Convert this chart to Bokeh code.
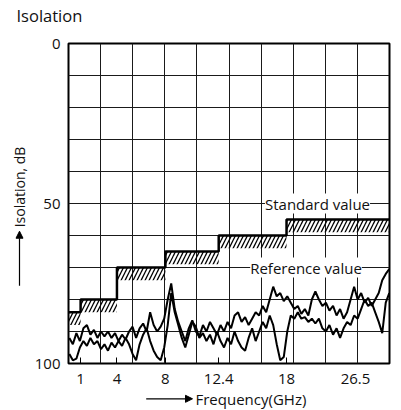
import numpy as np
from bokeh.plotting import figure
from bokeh.models import Range1d, FixedTicker, Label, Arrow, NormalHead
from bokeh.layouts import column, row
from bokeh.embed import file_html
from bokeh.resources import INLINE

# ---------------- data ----------------
title_text = "Isolation"
y_label = "Isolation, dB"
x_label = "Frequency(GHz)"

tick_freqs = [1, 4, 8, 12.4, 18, 26.5]
tick_labels = ["1", "4", "8", "12.4", "18", "26.5"]
y_ticks = [0, 50, 100]

# standard-value steps: band start, band end, isolation level (dB)
band_start = [0, 1, 4, 8, 12.4, 18]
band_end = [1, 4, 8, 12.4, 18, 26.5]
standard_level = [84, 80, 70, 65, 60, 55]
hatch_depth = [4, 4, 4, 4, 4, 4]

freq = [0.07, 0.36, 0.65, 0.94, 1.23, 1.52, 1.81, 2.10, 2.39, 2.68, 2.97, 3.26,
        3.55, 3.84, 4.13, 4.42, 4.71, 5.00, 5.29, 5.58, 5.87, 6.16, 6.45, 6.74,
        7.03, 7.32, 7.61, 7.90, 8.19, 8.48, 8.77, 9.06, 9.35, 9.64, 9.93, 10.22,
        10.51, 10.80, 11.10, 11.39, 11.68, 11.97, 12.26, 12.55, 12.84, 13.13,
        13.42, 13.71, 14.00, 14.29, 14.58, 14.87, 15.16, 15.45, 15.74, 16.03,
        16.32, 16.61, 16.90, 17.19, 17.48, 17.77, 18.06, 18.35, 18.64, 18.93,
        19.22, 19.51, 19.80, 20.09, 20.38, 20.67, 20.96, 21.25, 21.54, 21.84,
        22.13, 22.42, 22.71, 23.00, 23.29, 23.58, 23.87, 24.16, 24.45, 24.74,
        25.03, 25.32, 25.61, 25.90, 26.19, 26.48]

ref_a = [92, 94, 90.5, 93, 89, 88, 91, 89.5, 92, 90, 91.5, 90, 92, 90.5, 93,
         91, 92.5, 90, 88.5, 92, 89, 87.5, 90, 84, 88, 90, 88.5, 86, 80, 75,
         83, 87, 90, 93, 89, 86.5, 90, 91.5, 88, 90, 87, 89, 91, 88,
         90, 87, 89, 85, 84, 87, 85.5, 88, 86, 84, 85, 82, 84,
         80, 76, 79, 78, 80.5, 79, 81, 83, 82, 84.5, 83, 85, 80,
         77.5, 80, 82, 81, 83.5, 82, 85, 83, 86, 84, 80, 76, 80,
         78, 81, 79.5, 82, 80, 78, 74, 72, 70.5]

ref_b = [97, 99, 98.5, 95, 93, 94.5, 92, 94, 93, 95.5, 94, 96, 93.5, 95, 93,
         94.5, 92, 94, 97, 99, 94, 91, 89, 93, 96, 98, 99, 95, 88, 78,
         84, 88, 92, 95, 91, 87, 88.5, 92, 90.5, 93, 91, 94, 90, 93,
         95, 92, 94, 90, 93, 95, 96, 92, 89, 93, 90, 87, 89,
         85, 88, 94, 99, 98, 90, 85, 86, 84, 86, 85.5, 87, 86,
         87.5, 86, 89, 90, 88, 91, 89, 92, 89, 87, 88, 85, 86,
         83, 80, 82, 81, 84, 87, 90.5, 81, 78]

std_label = "Standard value"
ref_label = "Reference value"

# ---------------- page layout (pixels) ----------------
FONT = "Open Sans"
INK = "#111111"
W, H = 401, 410
TOP_H, BOT_H, LEFT_W = 32, 20, 30          # strips around the main chart
FL, FR, FT, FB = 68, 389, 43, 365          # plot frame edges on the page
MAIN_W, MAIN_H = W - LEFT_W, H - TOP_H - BOT_H
x0, x1 = 0, 26.5
y0, y1 = 0, 100
NBSP = "\u00a0"


def px_x(px):
    return x0 + (px - FL) / (FR - FL) * (x1 - x0)


def strip(width, height):
    """A blank figure whose frame fills it, with pixel coordinates (y down)."""
    f = figure(width=width, height=height, output_backend="svg",
               toolbar_location=None, x_range=Range1d(0, width),
               y_range=Range1d(height, 0), x_axis_location=None,
               y_axis_location=None, min_border=0)
    f.outline_line_color = None
    f.background_fill_color = "white"
    f.border_fill_color = "white"
    f.grid.visible = False
    return f


# ---- title strip ----
top = strip(W, TOP_H)
top.add_layout(Label(x=16, y=15, text=title_text, text_font=FONT,
                     text_font_size="16.5px", text_color=INK,
                     text_baseline="middle"))

# ---- y-label strip with upward arrow ----
left = strip(LEFT_W, MAIN_H)
left.add_layout(Label(x=19, y=192.5 - TOP_H, text=y_label, angle=np.pi / 2,
                      text_align="center", text_baseline="middle",
                      text_font=FONT, text_font_size="14px", text_color=INK))
left.add_layout(Arrow(x_start=19, y_start=303 - TOP_H, x_end=19, y_end=242 - TOP_H,
                      line_color="black", line_width=1.2,
                      end=NormalHead(size=7, fill_color="black",
                                     line_color="black", line_width=1)))

# ---- x-label strip with rightward arrow ----
bottom = strip(W, BOT_H)
bottom.add_layout(Label(x=195, y=398 - (H - BOT_H), text=x_label,
                        text_align="left", text_baseline="middle",
                        text_font=FONT, text_font_size="15px", text_color=INK))
bottom.add_layout(Arrow(x_start=145.7, y_start=398.3 - (H - BOT_H), x_end=192,
                        y_end=398.3 - (H - BOT_H), line_color="black",
                        line_width=1.2,
                        end=NormalHead(size=7, fill_color="black",
                                       line_color="black", line_width=1)))

# ---- main chart ----
p = figure(width=MAIN_W, height=MAIN_H, output_backend="svg", toolbar_location=None,
           x_range=Range1d(x0, x1), y_range=Range1d(y1, y0),
           min_border_left=FL - LEFT_W, min_border_right=W - FR,
           min_border_top=FT - TOP_H, min_border_bottom=H - BOT_H - FB)
p.background_fill_color = "white"
p.border_fill_color = "white"
p.outline_line_color = "black"
p.outline_line_width = 2

# grid: uniform 10 x 10
p.xgrid.ticker = FixedTicker(ticks=list(np.linspace(x0, x1, 11)))
p.ygrid.ticker = FixedTicker(ticks=list(range(0, 101, 10)))
for g in (p.xgrid, p.ygrid):
    g.grid_line_color = "#1a1a1a"
    g.grid_line_width = 1
    g.grid_line_alpha = 1

# axes
overrides = {t: l for t, l in zip(tick_freqs, tick_labels)}
overrides[tick_freqs[-1]] = tick_labels[-1] + NBSP * 8   # keep last label inside
p.xaxis.ticker = FixedTicker(ticks=tick_freqs)
p.xaxis.major_label_overrides = overrides
p.xaxis.axis_line_color = None
p.xaxis.major_tick_in = 6
p.xaxis.major_tick_out = 0
p.xaxis.major_tick_line_color = "black"
p.xaxis.major_tick_line_width = 1
p.xaxis.minor_tick_line_color = None
p.xaxis.major_label_standoff = 4

p.yaxis.ticker = FixedTicker(ticks=y_ticks)
p.yaxis.axis_line_color = None
p.yaxis.major_tick_in = 0
p.yaxis.major_tick_out = 0
p.yaxis.minor_tick_line_color = None
p.yaxis.major_label_standoff = 8

for ax in (p.xaxis, p.yaxis):
    ax.major_label_text_font = FONT
    ax.major_label_text_font_size = "15px"
    ax.major_label_text_color = INK

# hatched bands below each standard step
bottoms = [l + d for l, d in zip(standard_level, hatch_depth)]
p.quad(left=band_start, right=band_end, top=standard_level, bottom=bottoms,
       fill_color=None, line_color=None, hatch_pattern="/", hatch_color="black",
       hatch_scale=8, hatch_weight=1.3)

# standard value step line
step_x = band_start + [band_end[-1]]
step_y = standard_level + [standard_level[-1]]
p.step(step_x, step_y, mode="after", line_color="black", line_width=2.5)

# reference value traces
p.line(freq, ref_a, line_color="black", line_width=2)
p.line(freq, ref_b, line_color="black", line_width=2)

# annotation labels sitting on grid lines
p.add_layout(Label(x=px_x(317), y=50, text=std_label, text_align="center",
                   text_baseline="middle", text_font=FONT, text_font_size="15px",
                   text_color=INK, background_fill_color="white"))
p.add_layout(Label(x=px_x(305.5), y=70, text=ref_label, text_align="center",
                   text_baseline="middle", text_font=FONT, text_font_size="15px",
                   text_color=INK, background_fill_color="white"))

page = column(top, row(left, p, spacing=0), bottom, spacing=0)
open("out.html", "w").write(file_html(page, INLINE))
